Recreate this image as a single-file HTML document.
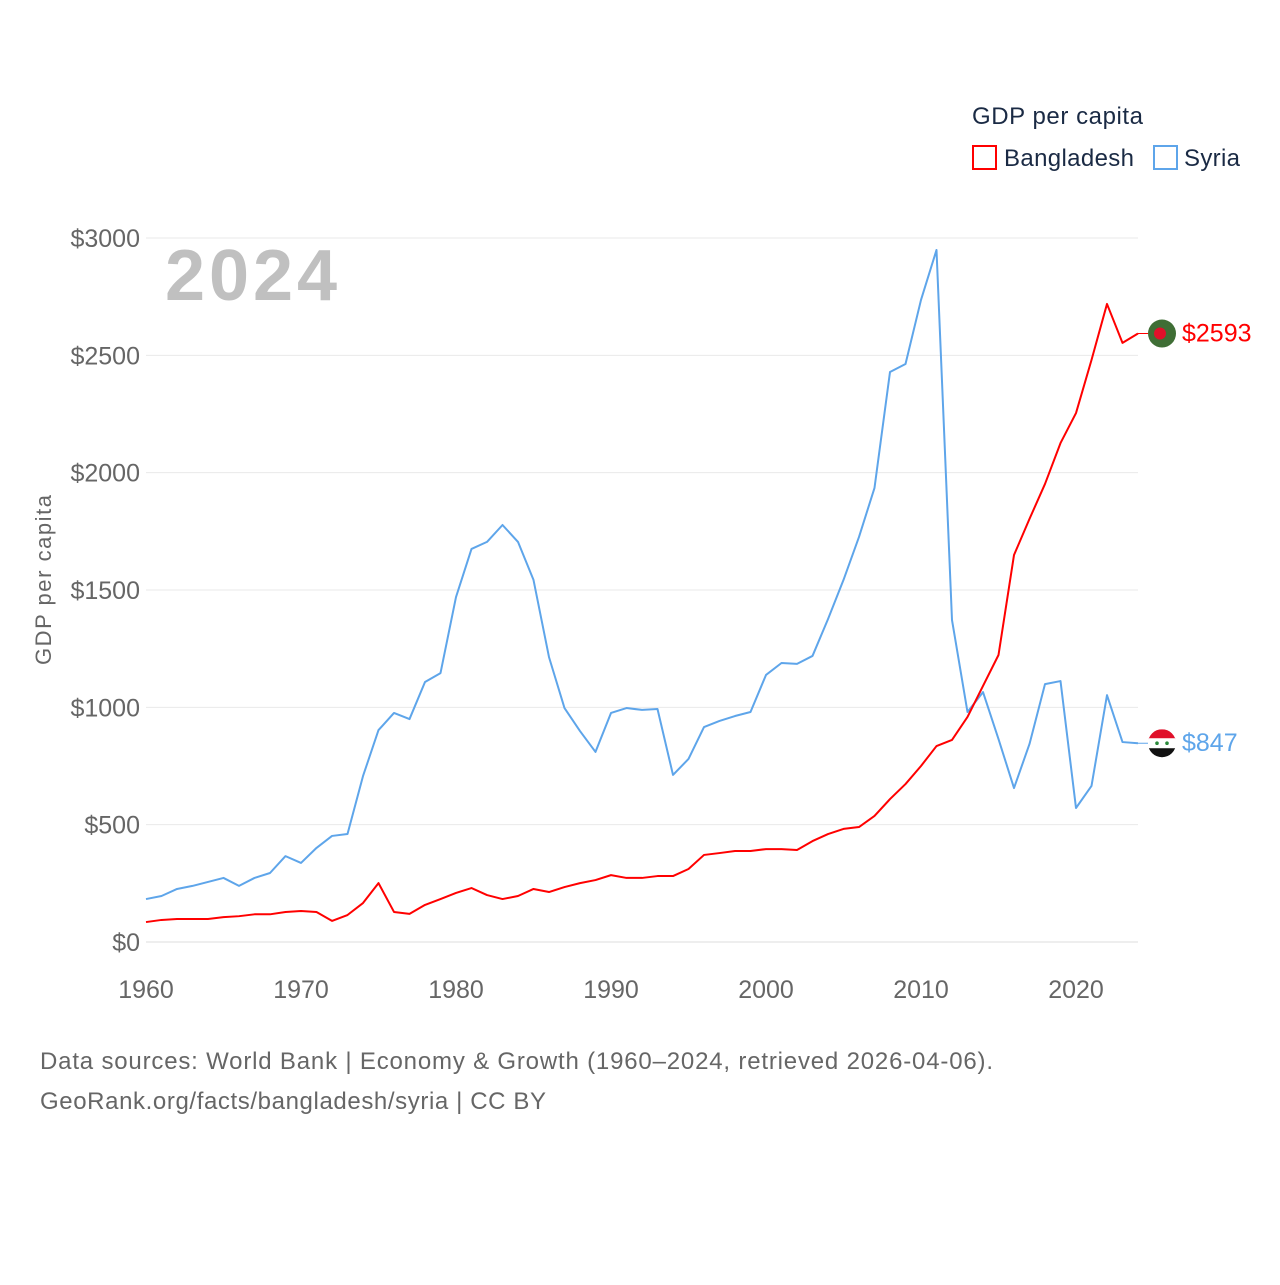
<!DOCTYPE html>
<html><head><meta charset="utf-8">
<style>
html,body{margin:0;padding:0;background:#fff;}
body{width:1280px;height:1280px;position:relative;overflow:hidden;font-family:"Liberation Sans",sans-serif;}
svg text{font-family:"Liberation Sans",sans-serif;}
</style></head>
<body>
<svg id="chart" width="1280" height="1280" viewBox="0 0 1280 1280" xmlns="http://www.w3.org/2000/svg">
  <text x="972" y="124" font-size="24" fill="#1a2a44" textLength="171">GDP per capita</text>
  <g>
    <rect x="973" y="146" width="23" height="23" fill="none" stroke="#ff0000" stroke-width="2"/>
    <text x="1004" y="166" font-size="24" fill="#1a2a44" textLength="130">Bangladesh</text>
  </g>
  <g>
    <rect x="1154" y="146" width="23" height="23" fill="none" stroke="#5ea5ea" stroke-width="2"/>
    <text x="1184" y="166" font-size="24" fill="#1a2a44" textLength="56">Syria</text>
  </g>
  <g id="grid"></g>
  <g id="yticks"></g>
  <g id="xticks"></g>
  <text x="165" y="300" font-size="72" font-weight="bold" fill="#c0c0c0" textLength="172">2024</text>
  <text transform="translate(51,580) rotate(-90)" text-anchor="middle" font-size="22" fill="#666" textLength="170">GDP per capita</text>
  <g id="series"></g>
  <text x="40" y="1069" font-size="24" fill="#666" textLength="953">Data sources: World Bank | Economy &amp; Growth (1960–2024, retrieved 2026-04-06).</text>
  <text x="40" y="1109" font-size="24" fill="#666" textLength="506">GeoRank.org/facts/bangladesh/syria | CC BY</text>
</svg>
<script>
const years = [];
for (let y = 1960; y <= 2024; y++) years.push(y);
const bangladesh = [85,94,98,98,98,106,110,118,118,128,132,128,90,115,166,251,128,120,158,183,209,230,200,183,196,226,213,234,251,264,285,273,273,281,281,311,371,379,388,388,396,396,392,430,460,482,490,537,609,673,750,835,861,959,1091,1223,1649,1803,1952,2126,2254,2480,2719,2553,2593];
const syria = [183,196,226,239,256,273,239,273,294,366,337,401,452,460,707,903,976,950,1108,1146,1470,1675,1705,1777,1705,1543,1214,997,899,810,976,997,989,993,712,780,916,942,963,980,1138,1189,1185,1219,1376,1543,1726,1935,2429,2463,2736,2949,1372,980,1065,865,656,844,1099,1112,571,665,1052,852,847];
const yTicks = [0,500,1000,1500,2000,2500,3000];
const xTicks = [1960,1970,1980,1990,2000,2010,2020];

const NS = "http://www.w3.org/2000/svg";
const xs = v => 146 + (v - 1960) * 15.5;
const ys = v => 942 - v * (704 / 3000);
function mk(tag, attrs, parent) {
  const e = document.createElementNS(NS, tag);
  for (const k in attrs) e.setAttribute(k, attrs[k]);
  parent.appendChild(e);
  return e;
}
const grid = document.getElementById('grid');
const yt = document.getElementById('yticks');
const xt = document.getElementById('xticks');
yTicks.forEach(v => {
  const l = mk('line', {x1: 146, x2: 1138, y1: ys(v), y2: ys(v), stroke: v === 0 ? '#ddd' : '#eaeaea', 'stroke-width': 1}, grid);
  
  
  const t = mk('text', {x: 140, y: ys(v) + 9, 'text-anchor': 'end', 'font-size': 25, fill: '#666'}, yt);
  t.textContent = '$' + v;
  
  
});
xTicks.forEach(v => {
  const t = mk('text', {x: xs(v), y: 998, 'text-anchor': 'middle', 'font-size': 25, fill: '#666'}, xt);
  t.textContent = v;
  
  
});
const sg = document.getElementById('series');
function line(data, color, name) {
  const p = mk('polyline', {points: data.map((v, i) => xs(years[i]) + ',' + ys(v)).join(' '), fill: 'none', stroke: color, 'stroke-width': 2, 'stroke-linejoin': 'round'}, sg);
  
  
}
line(syria, '#5ea5ea', 'syria-line');
line(bangladesh, '#ff0000', 'bangladesh-line');

const bLast = bangladesh[bangladesh.length - 1], sLast = syria[syria.length - 1];
const bx = xs(2024), by = ys(bLast), sy = ys(sLast);
mk('line', {x1: bx, y1: by, x2: 1148, y2: by, stroke: '#ff0000', 'stroke-width': 1}, sg);
mk('line', {x1: bx, y1: sy, x2: 1148, y2: sy, stroke: '#5ea5ea', 'stroke-width': 1}, sg);
const bf = mk('g', {}, sg);


mk('circle', {cx: 1162, cy: by, r: 14, fill: '#3f6e35'}, bf);
mk('circle', {cx: 1160, cy: by, r: 6, fill: '#e0102a'}, bf);
const sf = mk('g', {}, sg);


const cp = mk('clipPath', {id: 'sclip'}, sf);
mk('circle', {cx: 1162, cy: sy, r: 14}, cp);
const fg = mk('g', {'clip-path': 'url(#sclip)'}, sf);
mk('rect', {x: 1148, y: sy - 14, width: 28, height: 10, fill: '#e0102a'}, fg);
mk('rect', {x: 1148, y: sy - 5, width: 28, height: 10, fill: '#fff'}, fg);
mk('rect', {x: 1148, y: sy + 5, width: 28, height: 10, fill: '#111'}, fg);
mk('circle', {cx: 1157, cy: sy, r: 1.8, fill: '#2a8a3a'}, fg);
mk('circle', {cx: 1167, cy: sy, r: 1.8, fill: '#2a8a3a'}, fg);
const bl = mk('text', {x: 1182, y: by + 8, 'font-size': 25, fill: '#ff0000'}, sg);
bl.textContent = '$' + bLast;


const sl = mk('text', {x: 1182, y: sy + 8, 'font-size': 25, fill: '#5ea5ea'}, sg);
sl.textContent = '$' + sLast;


</script>
</body></html>
